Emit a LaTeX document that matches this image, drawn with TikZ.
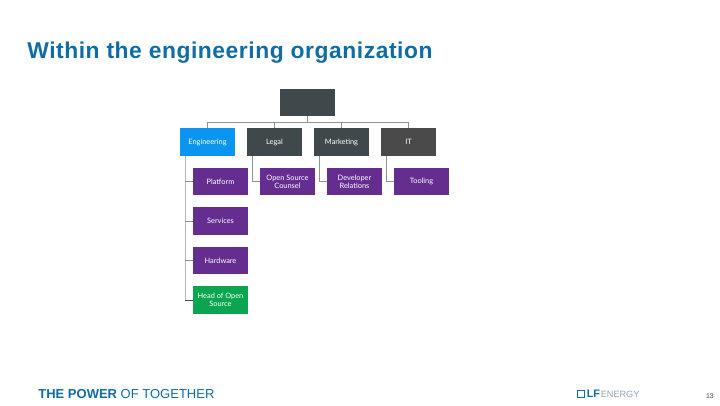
\documentclass[tikz,border=0pt]{standalone}
\usepackage{fontspec}
\setmainfont{Liberation Sans}
\newfontfamily\boxfont{Lato}
\newfontfamily\titlefont[LetterSpace=2.4]{Liberation Sans}
\usetikzlibrary{positioning}
\definecolor{TitleBlue}{HTML}{0F6CA6}
\definecolor{Slate}{HTML}{3F494C}
\definecolor{Ash}{HTML}{4A4A4A}
\definecolor{SkyBlue}{HTML}{0A96F0}
\definecolor{Violet}{HTML}{662D91}
\definecolor{Leaf}{HTML}{0AA551}
\definecolor{Wire}{HTML}{8E9394}
\definecolor{SoftWire}{HTML}{B4B8B9}
\definecolor{LogoGrey}{HTML}{8FA3B0}
\begin{document}
\begin{tikzpicture}[
  node distance=0.24cm,
  unit/.style={minimum width=1.1cm,minimum height=0.55cm,inner sep=0pt,outer sep=0pt,align=center,text=white,font=\boxfont\fontsize{4.2}{4.7}\selectfont},
  lead/.style={unit,fill=Slate},
  dept/.style={unit,fill=Slate},
  team/.style={unit,fill=Violet},
  link/.style={draw=Wire,line width=0.45pt},
  drop/.style={draw=SoftWire,line width=0.45pt}
]
\useasboundingbox (0,0) rectangle (14.4,8.1);
\node[anchor=west,text=TitleBlue,inner sep=0pt,font=\titlefont\bfseries\fontsize{13}{15}\selectfont] (title) at (0.54,7.05) {Within the engineering organization};
% org chart
\node[lead] (top) at (6.15,6.05) {};
\node[dept,fill=SkyBlue] (eng) at (4.15,5.26) {Engineering};
\node[dept,right=0.24cm of eng] (legal) {Legal};
\node[dept,right=0.24cm of legal] (marketing) {Marketing};
\node[dept,fill=Ash,right=0.24cm of marketing] (it) {IT};
\node[team,below=0.24cm of eng,xshift=0.26cm] (platform) {Platform};
\node[team,below=0.24cm of legal,xshift=0.26cm] (counsel) {Open Source\\Counsel};
\node[team,below=0.24cm of marketing,xshift=0.26cm] (relations) {Developer\\Relations};
\node[team,below=0.24cm of it,xshift=0.26cm] (tooling) {Tooling};
\node[team,below=0.24cm of platform] (services) {Services};
\node[team,below=0.24cm of services] (hardware) {Hardware};
\node[team,fill=Leaf,below=0.24cm of hardware] (head) {Head of Open\\Source};
\coordinate (bus) at ([yshift=-0.12cm]top.south);
\coordinate (spine) at ([xshift=0.1cm]eng.south west);
\draw[link] (top.south) -- (bus);
\draw[link] (bus) -| (eng.north);
\draw[link] (bus) -| (legal.north);
\draw[link] (bus) -| (marketing.north);
\draw[link] (bus) -| (it.north);
\draw[drop] (spine) -- (spine |- head.west);
\draw[link] (spine |- platform.west) -- (platform.west);
\draw[link] (spine |- services.west) -- (services.west);
\draw[link] (spine |- hardware.west) -- (hardware.west);
\draw[link,draw=Ash] (spine |- head.west) -- (head.west);
\draw[link] ([xshift=0.1cm]legal.south west) |- (counsel.west);
\draw[link] ([xshift=0.1cm]marketing.south west) |- (relations.west);
\draw[link] ([xshift=0.1cm]it.south west) |- (tooling.west);
% footer
\node[anchor=west,inner sep=0pt,text=TitleBlue,font=\fontsize{7.4}{9}\selectfont] (tagline) at (0.76,0.21) {\textbf{THE POWER} OF TOGETHER};
\node[anchor=east,inner sep=0pt,text=black!75,font=\fontsize{3.9}{5}\selectfont] (page) at (14.28,0.17) {13};
\node[draw=TitleBlue,line width=0.8pt,minimum size=0.13cm,inner sep=0pt] (logomark) at (11.62,0.22) {};
\node[right=0.03cm of logomark,inner sep=0pt,text=TitleBlue,font=\bfseries\fontsize{6.2}{7}\selectfont] (logolf) {LF};
\node[right=0cm of logolf,inner sep=0pt,text=LogoGrey,font=\fontsize{5.2}{6}\selectfont] (logoname) {ENERGY};
\end{tikzpicture}
\end{document}
